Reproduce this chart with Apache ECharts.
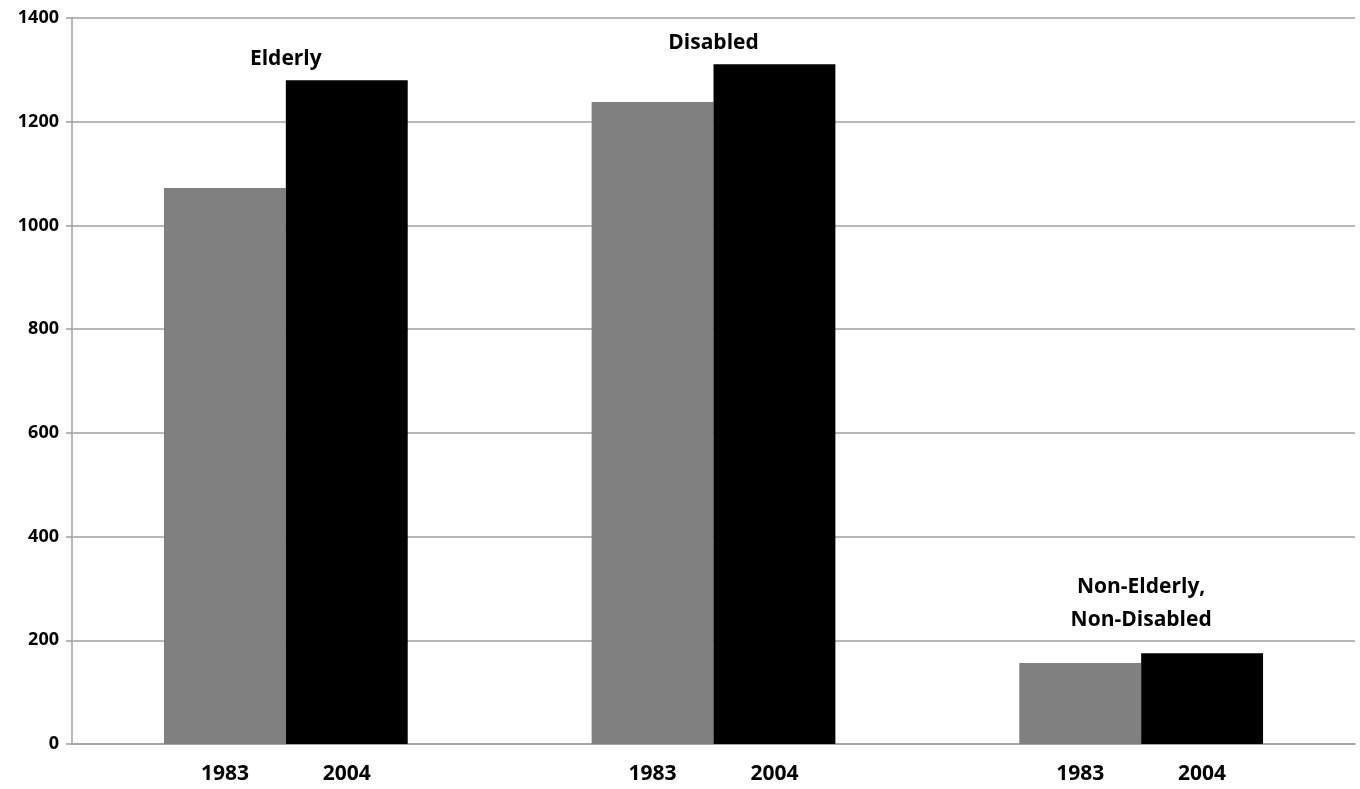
<!DOCTYPE html>
<html>
<head>
<meta charset="utf-8">
<script src="https://cdn.jsdelivr.net/npm/echarts@6/dist/echarts.min.js"></script>
<style>
  html, body { margin: 0; padding: 0; background: #fff; }
  #chart { width: 1360px; height: 789px; }
</style>
</head>
<body>
<div id="chart"></div>
<script>
// Groups, years and values
const categories = ['Elderly', 'Disabled', 'Non-Elderly,\nNon-Disabled'];
const years = ['1983', '2004'];
const values1983 = [1072, 1238, 156];
const values2004 = [1280, 1311, 175];
const yTicks = [0, 200, 400, 600, 800, 1000, 1200, 1400];

const FONT = '"Open Sans", "Liberation Sans", sans-serif';

// Group titles sit just above the taller bar of each group;
// two-line titles get a little more clearance.
const groupTitles = categories.map((c, i) => ({
  value: Math.max(values1983[i], values2004[i]),
  label: { distance: c.includes('\n') ? 17 : 5 }
}));

const chart = echarts.init(document.getElementById('chart'), null, { renderer: 'canvas' });

const yearLabel = {
  show: true,
  position: 'bottom',
  distance: 20,
  formatter: '{a}',
  color: '#000',
  fontFamily: FONT,
  fontWeight: 'bold',
  fontSize: 21
};

chart.setOption({
  animation: false,
  backgroundColor: '#fff',
  grid: { left: 72, right: 5, top: 18, bottom: 45 },
  xAxis: {
    type: 'category',
    data: categories,
    axisLine: { show: true, lineStyle: { color: '#a0a0a0', width: 1.5 } },
    axisTick: { show: false },
    axisLabel: { show: false },
    splitLine: { show: false }
  },
  yAxis: {
    type: 'value',
    min: yTicks[0],
    max: yTicks[yTicks.length - 1],
    interval: yTicks[1] - yTicks[0],
    axisLine: { show: true, lineStyle: { color: '#a0a0a0', width: 1.5 } },
    axisTick: { show: true, length: 6, lineStyle: { color: '#a0a0a0', width: 1.5 } },
    axisLabel: {
      formatter: (v) => String(v),
      color: '#000',
      fontFamily: FONT,
      fontWeight: 'bold',
      fontSize: 18,
      margin: 13
    },
    splitLine: { show: true, lineStyle: { color: '#a0a0a0', width: 1.5 } }
  },
  series: [
    {
      name: years[0],
      type: 'bar',
      data: values1983,
      barGap: '0%',
      barCategoryGap: '43%',
      itemStyle: { color: '#808080' },
      label: yearLabel
    },
    {
      name: years[1],
      type: 'bar',
      data: values2004,
      itemStyle: { color: '#000000' },
      label: yearLabel
    },
    {
      name: 'groups',
      type: 'scatter',
      data: groupTitles,
      symbolSize: 0,
      silent: true,
      z: 10,
      itemStyle: { opacity: 1 },
      label: {
        show: true,
        position: 'top',
        formatter: (p) => categories[p.dataIndex],
        color: '#000',
        fontFamily: FONT,
        fontWeight: 'bold',
        fontSize: 21,
        lineHeight: 33,
        align: 'center'
      }
    }
  ]
});
</script>
</body>
</html>
